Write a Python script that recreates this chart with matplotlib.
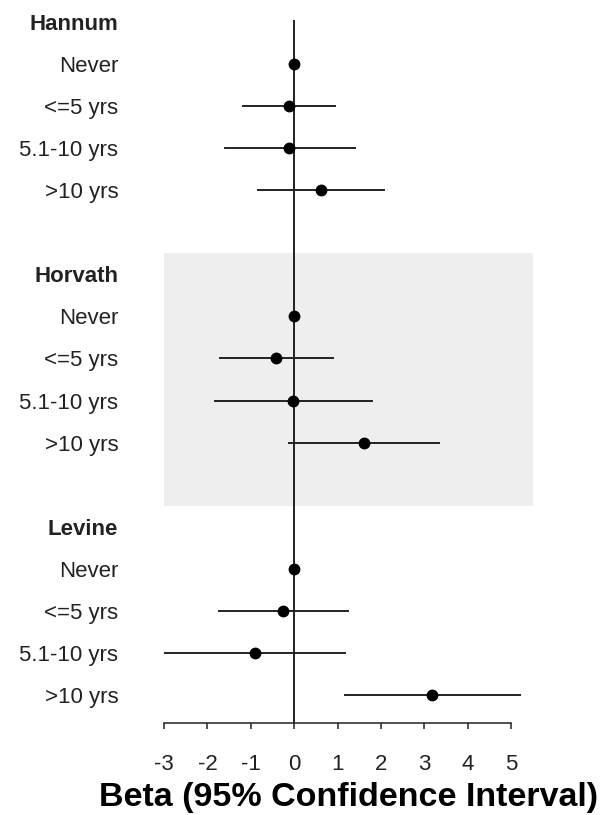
import numpy as np
import matplotlib
matplotlib.use('Agg')
import matplotlib.pyplot as plt
from matplotlib import rcParams

rcParams['font.family'] = ['Liberation Sans', 'DejaVu Sans']

# forest plot of beta estimates by smoking-cessation duration
clocks = ['Hannum', 'Horvath', 'Levine']
categories = ['Never', '<=5 yrs', '5.1-10 yrs', '>10 yrs']

beta = {
    'Hannum':  [0.0, -0.11, -0.12, 0.61],
    'Horvath': [0.0, -0.41, -0.02, 1.60],
    'Levine':  [0.0, -0.25, -0.90, 3.18],
}
lower = {
    'Hannum':  [0.0, -1.18, -1.60, -0.84],
    'Horvath': [0.0, -1.71, -1.82, -0.12],
    'Levine':  [0.0, -1.73, -3.02, 1.16],
}
upper = {
    'Hannum':  [0.0, 0.95, 1.41, 2.06],
    'Horvath': [0.0, 0.90, 1.79, 3.34],
    'Levine':  [0.0, 1.24, 1.18, 5.19],
}
xticks = [-3, -2, -1, 0, 1, 2, 3, 4, 5]

W, H = 602, 815
fig = plt.figure(figsize=(W / 100, H / 100), dpi=100)
# axes placed so x=-3 sits at px 164 and x=5.5 at px 533
left_px, right_px, top_px, bot_px = 164, 533, 20, 723
ax = fig.add_axes([left_px / W, 1 - bot_px / H, (right_px - left_px) / W, (bot_px - top_px) / H])

rows = []
labels = []
r = 0
for k, clock in enumerate(clocks):
    rows.append(r)
    labels.append(clock)
    head = r
    for j, cat in enumerate(categories):
        r += 1
        rows.append(r)
        labels.append(cat)
        ax.plot([lower[clock][j], upper[clock][j]], [r, r], color='#222222', lw=1.4, zorder=2)
        ax.plot(beta[clock][j], r, 'o', color='black', ms=7.5, zorder=3)
    if k == 1:
        ax.axhspan(head - 0.5, r + 1.5, xmin=0, xmax=1, color='#eeeeee', zorder=0, lw=0)
    r += 2

ax.axvline(0, color='#222222', lw=1.4, zorder=1)

ax.set_xlim(-3, 5.5)
ax.set_ylim(16.67, -0.05)
ax.set_yticks(rows)
ax.set_yticklabels(labels)
for t in ax.get_yticklabels():
    if t.get_text() in clocks:
        t.set_fontweight('bold')
ax.tick_params(axis='y', length=0, pad=33, labelsize=16, labelcolor='#222222')
ax.set_xticks(xticks)
ax.set_xticklabels([str(v) for v in xticks])
ax.tick_params(axis='x', length=4.5, width=1.1, pad=18, labelsize=16, color='#222222', labelcolor='#222222')

for s in ['top', 'right', 'left']:
    ax.spines[s].set_visible(False)
ax.spines['bottom'].set_bounds(-3, 5)
ax.spines['bottom'].set_color('#222222')
ax.spines['bottom'].set_linewidth(1.1)
ax.set_facecolor('none')

ax.set_xlabel('Beta (95% Confidence Interval)', fontsize=24.5, fontweight='bold', labelpad=5)

plt.savefig('out.png', dpi=100)
